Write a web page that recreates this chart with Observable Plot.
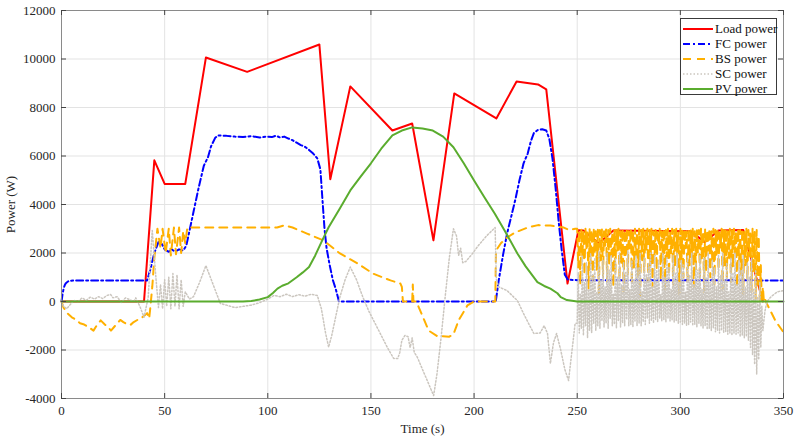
<!DOCTYPE html>
<html><head><meta charset="utf-8">
<script src="https://cdn.jsdelivr.net/npm/d3@7"></script>
<script src="https://cdn.jsdelivr.net/npm/@observablehq/plot@0.6"></script>
<style>
body{margin:0;background:#fff;}
#wrap{position:relative;width:799px;height:443px;font-family:'Liberation Serif','Times New Roman',serif;}
#legend{position:absolute;left:680px;top:18px;width:95px;height:75px;border:1px solid #3a3a3a;background:#fff;box-sizing:content-box;}
.item{position:absolute;left:2px;height:15px;display:flex;align-items:center;font-size:13px;color:#111;white-space:nowrap;}
.item svg{margin-right:2px;}
</style></head>
<body><div id="wrap"><div id="chart"></div><div id="legend"></div></div>
<script>
const xTicks = [0, 50, 100, 150, 200, 250, 300, 350];
const yTicks = [-4000, -2000, 0, 2000, 4000, 6000, 8000, 10000, 12000];
const seriesNames = ["Load power", "FC power", "BS power", "SC power", "PV power"];

const loadPower = [[0,0],[40,0],[45,5820],[50,4850],[60,4850],[70,10060],[90,9470],[125,10600],[130.3,5040],[140,8870],[160.4,7050],[170,7340],[180.3,2520],[190.4,8580],[210.8,7550],[220.6,9070],[231,8950],[235,8750],[245.3,740],[250.6,2940],[253,2930],[260.5,2400],[267.5,2930],[305,2900],[311.8,2450],[318.5,2930],[330.5,2950],[340,0]];

const fcPower = [[0,0],[0.5,300],[1,520],[1.5,660],[2,740],[3,820],[4,855],[6,870],[41.5,870],[43,1300],[45,2000],[47,2450],[48.5,2400],[50,2150],[52,2050],[53.5,2150],[55,2050],[57,2150],[59,2100],[60.5,2300],[62,2900],[64,3700],[66.5,4700],[69,5600],[71,5950],[72.5,6400],[74.5,6750],[76,6850],[80,6830],[84,6800],[88,6780],[92,6820],[96,6760],[99,6800],[102,6780],[104,6840],[106,6760],[108,6800],[110,6720],[112,6650],[114,6550],[116,6450],[118,6380],[120,6250],[122,6100],[124,5900],[125.5,5450],[126.5,4200],[127.5,3000],[128.5,2200],[130,1500],[131.5,900],[133,500],[134.5,0],[210.5,0],[212,900],[214,1900],[216,2800],[218,3500],[220,4200],[222,5000],[224,5700],[226,6100],[227.5,6600],[229,6950],[231,7080],[233,7100],[235,7050],[236.5,6700],[238,5900],[239.5,4700],[241,3300],[242.5,2100],[244,1100],[245.5,900],[250,880],[350,870]];

const bsPower = [[0,0],[1,-250],[3,-500],[5,-650],[7,-750],[9,-900],[11,-950],[13,-1050],[15.5,-1200],[17,-1000],[19,-780],[21,-950],[23,-1100],[24,-1200],[26,-1000],[28.5,-760],[30,-850],[32,-950],[33.5,-960],[35,-850],[37,-750],[38,-720],[40,-600],[41.5,-480],[42.5,-700],[43,-300],[44,600],[45,1800],[46.5,3000],[48,2200],[49,3000],[50.5,2000],[52,3000],[53,1900],[54.5,3050],[55.5,1950],[57,3050],[58,2000],[59,2900],[60,2400],[61,3050],[104.5,3050],[108,3140],[112,3050],[119,2800],[127,2520],[135,1980],[143.5,1570],[151,1150],[159.5,870],[164.3,740],[165,600],[165.5,0],[170,0],[170.3,700],[170.6,0],[172,0],[175,-600],[178,-1200],[182,-1420],[188,-1450],[190,-1350],[192.5,-780],[196.8,-160],[200,0],[210.3,0],[210.6,2100],[213,2400],[216,2640],[220,2850],[226,3050],[231,3150],[237,3130],[243.5,3050],[246,2950],[249,3000],
[250,3000],[250.5,1400],[251,2950],[251.5,700],[252,3000],[252.5,1800],[253,2900],[253.5,1100],[254,3000],[254.5,2200],[255,2850],[255.5,500],[256,3000],[256.5,1600],[257,2950],[257.5,900],[258,3000],[258.5,2000],[259,2900],[259.5,1300],[260,3000],[260.5,300],[261,2950],[261.5,1700],[262,3000],[262.5,1000],[263,2900],[263.5,2300],[264,3000],[264.5,800],[265,2950],[265.5,1500],[266,3000],[266.5,1900],[267,2850],[267.5,600],[268,3000],[268.5,1200],[269,2950],[269.5,2100],[270,3000],[270.5,900],[271,2900],[271.5,1600],[272,3000],[272.5,400],[273,2950],[273.5,1800],[274,3000],[274.5,1100],[275,2900],[275.5,2200],[276,3000],[276.5,700],[277,2950],[277.5,1400],[278,3000],[278.5,1900],[279,2850],[279.5,1000],[280,3000],[280.5,200],[281,2950],[281.5,1700],[282,3000],[282.5,1200],[283,2900],[283.5,2100],[284,3000],[284.5,800],[285,2950],[285.5,1500],[286,3000],[286.5,600],[287,2900],[287.5,1900],[288,3000],[288.5,1300],[289,2950],[289.5,2300],[290,3000],[290.5,900],[291,2900],[291.5,1600],[292,3000],[292.5,500],[293,2950],[293.5,1800],[294,3000],[294.5,1100],[295,2900],[295.5,2000],[296,3000],[296.5,700],[297,2950],[297.5,1400],[298,3000],[298.5,1900],[299,2850],[299.5,300],[300,3000],[300.5,1600],[301,2950],[301.5,1000],[302,3000],[302.5,2200],[303,2900],[303.5,800],[304,3000],[304.5,1500],[305,2950],[305.5,1800],[306,3000],[306.5,600],[307,2900],[307.5,1300],[308,3000],[308.5,2000],[309,2950],[309.5,900],[310,3000],[310.5,1700],[311,2900],[311.5,400],[312,3000],[312.5,1200],[313,2950],[313.5,2100],[314,3000],[314.5,1000],[315,2900],[315.5,1600],[316,3000],[316.5,700],[317,2950],[317.5,1900],[318,3000],[318.5,1300],[319,2850],[319.5,2200],[320,3000],[320.5,500],[321,2950],[321.5,1500],[322,3000],[322.5,1000],[323,2900],[323.5,1800],[324,3000],[324.5,800],[325,2950],[325.5,1400],[326,3000],[326.5,2000],[327,2900],[327.5,600],[328,3000],[328.5,1700],[329,2950],[329.5,1100],[330,3000],[330.5,300],[331,2900],[331.5,1500],[332,3000],[332.5,900],[333,2950],[333.5,1900],[334,2900],[334.5,400],[335,3000],[335.5,1200],[336,2900],[336.5,100],[337,2950],[337.5,700],[338,2700],[338.5,0],[339,1500],[339.5,0],[340,600],[340.5,0],[341,100],[342,-100],[346,-780],[350,-1270]];

const scPower = [[0,0],[1,-200],[2.5,-300],[4,-150],[6,50],[8,0],[10,150],[12,50],[14,180],[16,100],[18,200],[20,120],[22,250],[23.8,290],[25,150],[27,200],[29,-50],[31,150],[33,80],[35,0],[36,150],[38,-200],[40,-650],[42,150],[44,2930],[45.6,1150],[47,-250],[48,700],[49,-300],[50,900],[51,-200],[52,1000],[53,-300],[54,1150],[55,-200],[56,1100],[57,-300],[58,900],[59,-200],[60,400],[62,100],[64,200],[67,800],[70,1480],[73.5,700],[77,-80],[80,-150],[84,-250],[88,-200],[92,-150],[96,-50],[100,100],[103,250],[106,200],[109,300],[112,200],[115,280],[118,220],[121,300],[124,250],[126,-300],[128,-1300],[129.5,-1880],[131,-1400],[133,-600],[135,200],[137.5,900],[140,1420],[143,900],[146,200],[149,-400],[152,-900],[155,-1400],[158,-1900],[161,-2350],[163,-2350],[164,-2100],[165,-1600],[166.5,-1400],[168,-1450],[169,-1900],[170,-1500],[171,-2100],[172.5,-2300],[175,-2800],[178,-3400],[180.4,-3880],[182,-3000],[184,-1500],[186,200],[188,1800],[190,3000],[191.5,2700],[192.5,1900],[193.5,2200],[194.5,1600],[196,1650],[199,1950],[202,2300],[206,2700],[210.2,3050],[210.8,900],[212,600],[216,450],[219,200],[221,40],[224,-500],[227,-1000],[229,-1320],[232,-1300],[234,-1000],[235.6,-1320],[237,-2560],[238.5,-1700],[240,-1320],[242,-2000],[244,-2800],[245.8,-3260],[247.5,-2000],[249,-900],
[250,-900],[250.5,1200],[251,-1300],[251.5,300],[252,-1100],[252.5,1900],[253,-1400],[253.5,800],[254,-1000],[254.5,1600],[255,-1500],[255.5,500],[256,-1200],[256.5,2000],[257,-1300],[257.5,1100],[258,-900],[258.5,1800],[259,-1200],[259.5,400],[260,-1000],[260.5,2100],[261,-1100],[261.5,900],[262,-800],[262.5,1700],[263,-1050],[263.5,600],[264,-900],[264.5,2000],[265,-1100],[265.5,1300],[266,-700],[266.5,1900],[267,-1000],[267.5,300],[268,-950],[268.5,1800],[269,-1100],[269.5,1000],[270,-800],[270.5,2000],[271,-1050],[271.5,700],[272,-900],[272.5,1600],[273,-1000],[273.5,1200],[274,-750],[274.5,2100],[275,-1000],[275.5,500],[276,-950],[276.5,1700],[277,-1050],[277.5,900],[278,-800],[278.5,1900],[279,-1000],[279.5,1400],[280,-900],[280.5,2000],[281,-1000],[281.5,400],[282,-850],[282.5,1800],[283,-950],[283.5,1100],[284,-700],[284.5,1600],[285,-900],[285.5,2000],[286,-800],[286.5,600],[287,-900],[287.5,1900],[288,-750],[288.5,1300],[289,-850],[289.5,1700],[290,-700],[290.5,300],[291,-800],[291.5,2000],[292,-750],[292.5,1000],[293,-850],[293.5,1800],[294,-700],[294.5,1400],[295,-800],[295.5,500],[296,-750],[296.5,1900],[297,-850],[297.5,1200],[298,-800],[298.5,2000],[299,-900],[299.5,800],[300,-850],[300.5,1700],[301,-950],[301.5,1500],[302,-900],[302.5,400],[303,-1000],[303.5,1900],[304,-950],[304.5,1100],[305,-850],[305.5,2000],[306,-1000],[306.5,700],[307,-950],[307.5,1600],[308,-1050],[308.5,1300],[309,-900],[309.5,1900],[310,-1000],[310.5,500],[311,-1100],[311.5,1800],[312,-1000],[312.5,1000],[313,-1150],[313.5,2000],[314,-1100],[314.5,800],[315,-1200],[315.5,1700],[316,-1100],[316.5,1400],[317,-1250],[317.5,600],[318,-1200],[318.5,1900],[319,-1300],[319.5,1100],[320,-1200],[320.5,2000],[321,-1300],[321.5,900],[322,-1250],[322.5,1600],[323,-1350],[323.5,400],[324,-1300],[324.5,1800],[325,-1400],[325.5,1200],[326,-1300],[326.5,2000],[327,-1350],[327.5,700],[328,-1300],[328.5,1700],[329,-1450],[329.5,1300],[330,-1400],[330.5,1900],[331,-1500],[331.5,600],[332,-1450],[332.5,1600],[333,-1600],[333.5,1000],[334,-1900],[334.5,1800],[335,-2200],[335.5,500],[336,-2600],[336.5,1300],[337,-3000],[337.5,200],[338,-2400],[338.5,800],[339,-1900],[339.5,-200],[340,-1200],[341,-400],[342,0],[344,200],[347,400],[350,450]];

const pvPower = [[0,0],[88,0],[92,20],[96,80],[100,180],[102.5,350],[104.7,530],[107,650],[110,750],[114,1000],[117,1200],[120,1420],[123,1900],[126,2450],[129.5,3060],[135,3850],[140,4580],[145,5150],[150,5700],[155,6300],[160.4,6850],[165,7050],[170,7180],[175,7130],[180,7050],[185,6800],[190,6360],[195,5700],[200,4990],[205,4300],[210,3630],[215,2900],[221,1980],[225,1450],[230.7,800],[234,640],[237,530],[240.4,340],[242,180],[245,60],[250,0],[350,0]];

const seriesData = [loadPower, fcPower, bsPower, scPower, pvPower];
const seriesStyle = [
  {color:"#ff0000", dash:null, width:2},
  {color:"#0000ff", dash:"7,3,2,3", width:2},
  {color:"#ffb000", dash:"8,6", width:2},
  {color:"#cbc6bf", dash:"1.5,2", width:1.5},
  {color:"#5aac2e", dash:null, width:2}
];

const W = 799, H = 443, mL = 61, mR = 16, mT = 10, mB = 45;
const innerW = W - mL - mR, innerH = H - mT - mB, tick = 5;

const lineMarks = seriesData.map((data, i) => Plot.line(data, {
  x: d => d[0], y: d => d[1],
  stroke: seriesStyle[i].color,
  strokeWidth: seriesStyle[i].width,
  strokeDasharray: seriesStyle[i].dash,
  strokeLinejoin: "round"
}));

const chart = Plot.plot({
  width: W, height: H,
  marginLeft: mL, marginRight: mR, marginTop: mT, marginBottom: mB,
  x: {domain: [0, 350]},
  y: {domain: [-4000, 12000]},
  style: {fontFamily: "'Liberation Serif','Times New Roman',serif", fontSize: "13px", color: "#262626", background: "#fff"},
  marks: [
    Plot.gridX(xTicks, {stroke: "#e3e3e3", strokeOpacity: 1}),
    Plot.gridY(yTicks, {stroke: "#e3e3e3", strokeOpacity: 1}),
    ...lineMarks,
    Plot.frame({stroke: "#8a8a8a"}),
    Plot.tickX(xTicks, {x: d => d, insetTop: innerH - tick, stroke: "#444"}),
    Plot.tickX(xTicks, {x: d => d, insetBottom: innerH - tick, stroke: "#444"}),
    Plot.tickY(yTicks, {y: d => d, insetRight: innerW - tick, stroke: "#444"}),
    Plot.tickY(yTicks, {y: d => d, insetLeft: innerW - tick, stroke: "#444"}),
    Plot.axisX(xTicks, {anchor: "bottom", tickSize: 0, tickPadding: 7, label: "Time (s)", labelAnchor: "center", labelArrow: false, labelOffset: 34, tickFormat: d => String(d), fontFamily: "'Liberation Serif',serif", fontSize: 13}),
    Plot.axisY(yTicks, {anchor: "left", tickSize: 0, tickPadding: 6, label: "Power (W)", labelAnchor: "center", labelArrow: false, labelOffset: 56, tickFormat: d => String(d), fontFamily: "'Liberation Serif',serif", fontSize: 13})
  ]
});
document.getElementById("chart").appendChild(chart);

const legend = d3.select("#legend");
seriesNames.forEach((name, i) => {
  const s = seriesStyle[i];
  const item = legend.append("div").attr("class", "item").style("top", (2 + i * 15) + "px");
  const svg = item.append("svg").attr("width", 30).attr("height", 10);
  svg.append("line").attr("x1", 0).attr("x2", 30).attr("y1", 5).attr("y2", 5)
    .attr("stroke", s.color).attr("stroke-width", s.width)
    .attr("stroke-dasharray", s.dash);
  item.append("span").text(name);
});
</script>
</body></html>
